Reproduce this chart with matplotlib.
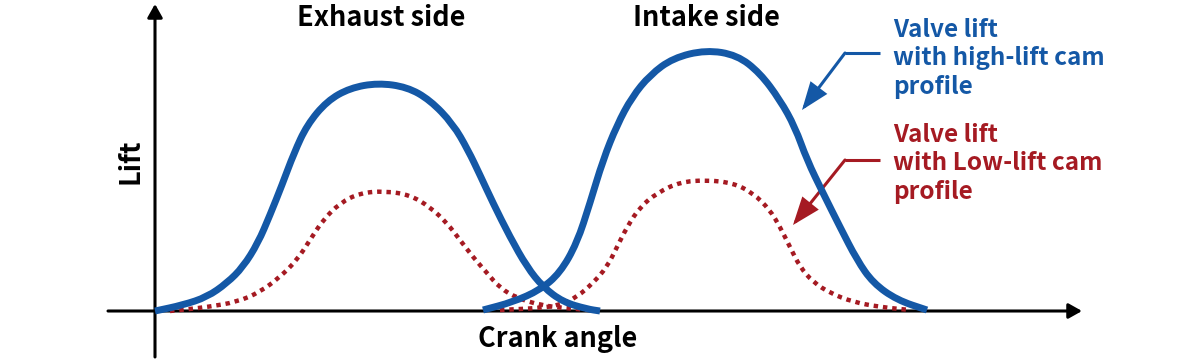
import numpy as np
import matplotlib
matplotlib.use('agg')
import matplotlib.pyplot as plt
from matplotlib.path import Path
from matplotlib.patches import PathPatch

plt.rcParams['font.family'] = ['Noto Sans CJK JP', 'DejaVu Sans']

# exhaust side, high-lift cam (blue)
exh_angle_hi = [0, 28, 52, 72, 88, 103, 115, 127, 139, 152, 172, 195, 223,
                252, 275, 298, 313, 325, 338, 355, 372, 388, 408, 432, 445]
exh_lift_hi = [0, 6, 14, 28, 44, 68, 96, 126, 158, 186, 210, 223, 228,
               224, 211, 187, 161, 136, 108, 74, 44, 24, 9, 2, 0]

# intake side, high-lift cam (blue)
int_angle_hi = [328, 358, 385, 405, 422, 435, 448, 462, 477, 495, 518, 551,
                582, 605, 625, 640, 652, 668, 685, 702, 718, 742, 772]
int_lift_hi = [1, 9, 21, 38, 68, 108, 151, 186, 214, 236, 253, 261,
               256, 238, 211, 184, 151, 118, 84, 51, 28, 11, 1]

# exhaust side, low-lift cam (red dotted)
exh_angle_lo = [15, 35, 52, 82, 105, 125, 142, 155, 168, 185, 205, 230,
                255, 275, 292, 305, 318, 332, 345, 362, 385, 408, 435]
exh_lift_lo = [0, 2, 4, 9, 19, 34, 51, 71, 91, 108, 118, 120,
               116, 104, 88, 71, 54, 38, 23, 13, 6, 3, 1]

# intake side, low-lift cam (red dotted)
int_angle_lo = [345, 385, 405, 422, 438, 452, 462, 472, 485, 502, 525, 552,
                578, 598, 615, 625, 635, 645, 658, 675, 698, 725, 755]
int_lift_lo = [1, 3, 6, 14, 28, 44, 64, 84, 104, 118, 129, 131,
               128, 118, 101, 84, 64, 44, 29, 18, 9, 4, 1]

side_labels = ['Exhaust side', 'Intake side']
hi_label = ['Valve lift', 'with high-lift cam', 'profile']
lo_label = ['Valve lift', 'with Low-lift cam', 'profile']

blue = '#1458a6'
red = '#a51a22'


def curve_patch(xs, ys, **kw):
    # smooth quadratic path through the read points (midpoints as anchors)
    pts = np.column_stack([xs, ys]).astype(float)
    mids = (pts[:-1] + pts[1:]) / 2
    verts = [pts[0], mids[0]]
    codes = [Path.MOVETO, Path.LINETO]
    for i in range(1, len(pts) - 1):
        verts += [pts[i], mids[i]]
        codes += [Path.CURVE3, Path.CURVE3]
    verts.append(pts[-1])
    codes.append(Path.LINETO)
    return PathPatch(Path(verts, codes), fill=False, **kw)


fig = plt.figure(figsize=(12, 3.61), dpi=100)
ax = fig.add_axes([0, 0, 1, 1])
ax.set_xlim(-155, 1045)
ax.set_ylim(-50, 311)
ax.axis('off')

# axes with arrow heads
ax.annotate('', xy=(927, 0), xytext=(-47, 0),
            arrowprops=dict(arrowstyle='-|>,head_length=0.8,head_width=0.45',
                            lw=2.2, color='black', mutation_scale=10,
                            shrinkA=0, shrinkB=0))
ax.annotate('', xy=(0, 307), xytext=(0, -46),
            arrowprops=dict(arrowstyle='-|>,head_length=0.8,head_width=0.45',
                            lw=2.2, color='black', mutation_scale=10,
                            shrinkA=0, shrinkB=0))

for xs, ys in [(exh_angle_lo, exh_lift_lo), (int_angle_lo, int_lift_lo)]:
    ax.add_patch(curve_patch(xs, ys, edgecolor=red, lw=3.2,
                             ls=(0, (1, 1.1)), capstyle='butt', zorder=3))
for xs, ys in [(exh_angle_hi, exh_lift_hi), (int_angle_hi, int_lift_hi)]:
    ax.add_patch(curve_patch(xs, ys, edgecolor=blue, lw=5.0,
                             capstyle='butt', joinstyle='round', zorder=4))

ax.text(226, 285, side_labels[0], fontsize=19.5, weight='bold',
        ha='center', va='baseline')
ax.text(551, 285, side_labels[1], fontsize=19.5, weight='bold',
        ha='center', va='baseline')
ax.text(403, -36, 'Crank angle', fontsize=19.5, weight='bold',
        ha='center', va='baseline')
ax.text(-25, 150, 'Lift', fontsize=19.5, weight='bold', rotation=90,
        ha='center', va='center')

# callout labels
for i, s in enumerate(hi_label):
    ax.text(738, 274.3 - 28.5 * i, s, color=blue, fontsize=17.5,
            weight='bold', ha='left', va='baseline')
for i, s in enumerate(lo_label):
    ax.text(738, 169 - 28.5 * i, s, color=red, fontsize=17.5,
            weight='bold', ha='left', va='baseline')

ax.plot([725, 690], [258, 258], color=blue, lw=2.2, solid_capstyle='butt')
ax.annotate('', xy=(647, 201), xytext=(690, 258),
            arrowprops=dict(arrowstyle='-|>,head_length=0.8,head_width=0.3',
                            lw=2.2, color=blue, mutation_scale=20,
                            shrinkA=0, shrinkB=0, joinstyle='miter'))
ax.plot([725, 690], [151, 151], color=red, lw=2.2, solid_capstyle='butt')
ax.annotate('', xy=(638, 86), xytext=(690, 151),
            arrowprops=dict(arrowstyle='-|>,head_length=0.8,head_width=0.3',
                            lw=2.2, color=red, mutation_scale=20,
                            shrinkA=0, shrinkB=0, joinstyle='miter'))

fig.savefig('out.png', dpi=100, facecolor='white')
